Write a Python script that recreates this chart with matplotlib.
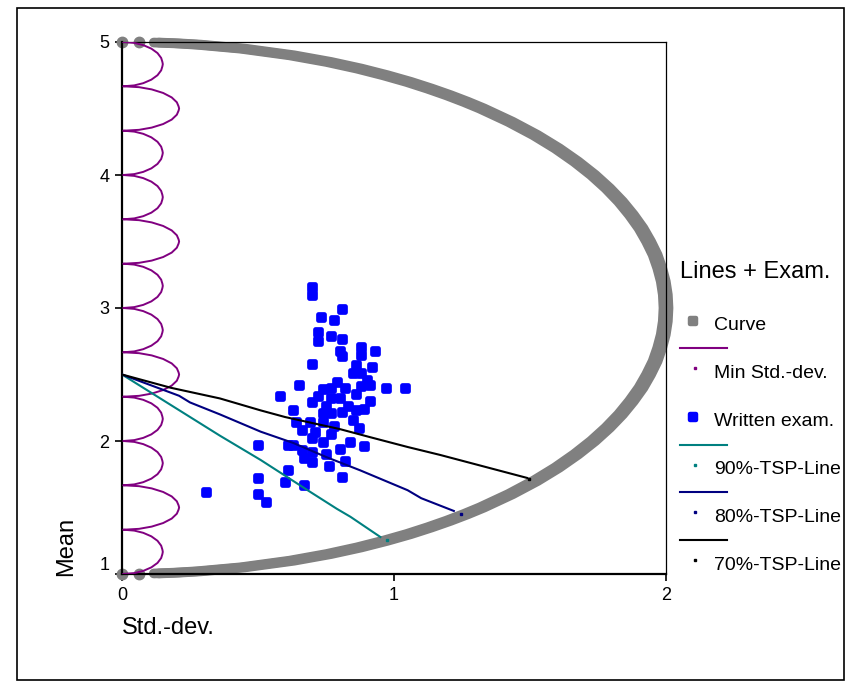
import numpy as np
import matplotlib
matplotlib.use("Agg")
import matplotlib.pyplot as plt
from matplotlib.lines import Line2D
from matplotlib.markers import MarkerStyle
from matplotlib.patches import Rectangle
from matplotlib.transforms import offset_copy

plt.rcParams['font.family'] = ['Liberation Sans', 'DejaVu Sans']

# maximum std-dev curve (gray band)
curve_mean = [1.000, 1.001, 1.004, 1.01, 1.02, 1.05, 1.1, 1.15, 1.2, 1.25, 1.3, 1.35, 1.4,
              1.45, 1.5, 1.6, 1.7, 1.8, 1.9, 2.0, 2.1, 2.2, 2.3, 2.4, 2.5, 2.6, 2.7, 2.8,
              2.9, 3.0, 3.1, 3.2, 3.3, 3.4, 3.5, 3.6, 3.7, 3.8, 3.9, 4.0, 4.1, 4.2, 4.3,
              4.4, 4.5, 4.55, 4.6, 4.65, 4.7, 4.75, 4.8, 4.85, 4.9, 4.95, 4.98, 4.99,
              4.996, 4.999, 5.000]
curve_std = [0.00, 0.063, 0.126, 0.20, 0.282, 0.444, 0.624, 0.76, 0.872, 0.968, 1.054,
             1.13, 1.20, 1.264, 1.323, 1.428, 1.52, 1.60, 1.67, 1.732, 1.786, 1.833,
             1.873, 1.908, 1.936, 1.960, 1.977, 1.990, 1.9975, 2.00, 1.9975, 1.990,
             1.977, 1.960, 1.936, 1.908, 1.873, 1.833, 1.786, 1.732, 1.67, 1.60, 1.52,
             1.428, 1.323, 1.264, 1.20, 1.13, 1.054, 0.968, 0.872, 0.76, 0.624, 0.444,
             0.282, 0.20, 0.126, 0.063, 0.00]

# minimum std-dev curve: lobes between thirds
lobe_bounds = [1.0, 1.333, 1.667, 2.0, 2.333, 2.667, 3.0, 3.333, 3.667, 4.0, 4.333, 4.667, 5.0]
lobe_peak = [0.15, 0.21, 0.15, 0.15, 0.21, 0.15, 0.15, 0.21, 0.15, 0.15, 0.21, 0.15]
lobe_pos = [0, 0.02, 0.07, 0.15, 0.25, 0.36, 0.45, 0.5, 0.55, 0.64, 0.75, 0.85, 0.93, 0.98, 1]
lobe_shape = [0.03, 0.30, 0.52, 0.72, 0.87, 0.96, 0.99, 1.0, 0.99, 0.96, 0.87, 0.72, 0.52,
              0.30, 0.03]

# written exam points (std-dev, mean)
exam_std = [0.70, 0.70, 0.81, 0.73, 0.78, 0.72, 0.72, 0.77, 0.81, 0.80, 0.81, 0.88, 0.88,
            0.93, 0.70, 0.86, 0.92, 0.85, 0.88, 0.90, 0.79, 0.65, 0.91, 0.74, 0.77, 0.82,
            0.88, 0.97, 1.04, 0.58, 0.72, 0.77, 0.80, 0.86, 0.91, 0.70, 0.75, 0.83, 0.89,
            0.63, 0.74, 0.77, 0.81, 0.86, 0.85, 0.64, 0.69, 0.74, 0.78, 0.87, 0.66, 0.71,
            0.77, 0.70, 0.74, 0.84, 0.89, 0.63, 0.66, 0.70, 0.80, 0.75, 0.67, 0.70, 0.82,
            0.76, 0.61, 0.81, 0.60, 0.67, 0.50, 0.61, 0.50, 0.31, 0.50, 0.53]
exam_mean = [3.16, 3.10, 2.99, 2.93, 2.91, 2.82, 2.75, 2.79, 2.77, 2.68, 2.64, 2.71, 2.65,
             2.68, 2.58, 2.57, 2.56, 2.51, 2.51, 2.46, 2.44, 2.42, 2.42, 2.39, 2.40, 2.40,
             2.41, 2.40, 2.40, 2.34, 2.34, 2.32, 2.32, 2.35, 2.30, 2.29, 2.26, 2.26, 2.24,
             2.23, 2.21, 2.21, 2.22, 2.23, 2.16, 2.14, 2.14, 2.14, 2.11, 2.10, 2.08, 2.07,
             2.05, 2.02, 1.99, 1.99, 1.96, 1.97, 1.93, 1.92, 1.94, 1.90, 1.87, 1.84, 1.85,
             1.81, 1.78, 1.73, 1.69, 1.67, 1.97, 1.97, 1.72, 1.62, 1.60, 1.54]

# TSP lines
tsp90_std = [0.0, 0.36, 0.51, 0.69, 0.79, 0.84, 0.95]
tsp90_mean = [2.5, 2.04, 1.857, 1.62, 1.49, 1.43, 1.278]
tsp80_std = [0.0, 0.21, 0.25, 0.36, 0.51, 0.63, 0.75, 0.875, 1.05, 1.10, 1.22]
tsp80_mean = [2.5, 2.34, 2.29, 2.20, 2.07, 1.985, 1.88, 1.78, 1.63, 1.57, 1.474]
tsp70_std = [0.0, 0.18, 0.36, 0.51, 0.60, 0.70, 0.80, 0.91, 1.05, 1.17, 1.49]
tsp70_mean = [2.5, 2.40, 2.32, 2.23, 2.18, 2.135, 2.09, 2.03, 1.955, 1.895, 1.722]
tsp_end_std = [0.974, 1.246, 1.496]
tsp_end_mean = [1.256, 1.451, 1.714]

gray = '#808080'
purple = '#800080'
blue = '#0000ff'
teal = '#008080'
navy = '#000080'

W, H = 846, 682
fig = plt.figure(figsize=(W / 100, H / 100), dpi=100)
ax = fig.add_axes([122 / W, 1 - 574 / H, 544 / W, 532 / H])

# curve: band of wide markers, drawn as two shifted thick strokes
for dx in (-2.5, 2.5):
    tr = offset_copy(ax.transData, fig=fig, x=dx, y=0, units='dots')
    ax.plot(curve_std[2:-2], curve_mean[2:-2], color=gray, lw=7, solid_capstyle='round',
            solid_joinstyle='round', clip_on=False, zorder=2, transform=tr)
ends = [0, 1, -2, -1]
ax.plot([curve_std[i] for i in ends], [curve_mean[i] for i in ends], 'o', color=gray,
        ms=7.5, clip_on=False, zorder=2)

# written exam
blob = MarkerStyle('s', joinstyle='round')
ax.plot(exam_std, exam_mean, ls='none', marker=blob, color=blue, mec=blue, mew=3.4,
        ms=5, zorder=3)

# min std-dev
min_mean, min_std = [], []
for i, pk in enumerate(lobe_peak):
    a, b = lobe_bounds[i], lobe_bounds[i + 1]
    min_mean.extend(a + (b - a) * np.array(lobe_pos))
    min_std.extend(pk * np.array(lobe_shape))
ax.plot(min_std, min_mean, color=purple, lw=1.4, zorder=4)

ax.plot(tsp90_std, tsp90_mean, color=teal, lw=1.5, zorder=5)
ax.plot(tsp80_std, tsp80_mean, color=navy, lw=1.5, zorder=5)
ax.plot(tsp70_std, tsp70_mean, color='black', lw=1.5, zorder=5)
for s, m, c in zip(tsp_end_std, tsp_end_mean, [teal, navy, 'black']):
    ax.plot(s, m, 's', color=c, ms=1.8, zorder=6)

ax.set_xlim(0, 2)
ax.set_ylim(1, 5)
ax.set_xticks([0, 1, 2])
ax.set_yticks([1, 2, 3, 4, 5])
ax.tick_params(labelsize=13, length=5, width=1.2, direction='out', pad=4)
ax.get_yticklabels()[0].set_va('bottom')
for side in ['left', 'bottom']:
    ax.spines[side].set_linewidth(1.6)
for side in ['top', 'right']:
    ax.spines[side].set_linewidth(0.9)

fig.text(122 / W, 1 - 628 / H, 'Std.-dev.', fontsize=17, ha='left', va='center')
fig.text(66 / W, 1 - 576 / H, 'Mean', fontsize=17, rotation=90, ha='center', va='bottom')


# legend drawn by hand
def fx(x):
    return x / W


def fy(y):
    return 1 - y / H


fig.text(fx(680), fy(272), 'Lines + Exam.', fontsize=17, va='center')
entries = [
    ('Curve', None, gray, 325),
    ('Min Std.-dev.', purple, purple, 373),
    ('Written exam.', None, blue, 421),
    ('90%-TSP-Line', teal, teal, 470),
    ('80%-TSP-Line', navy, navy, 517),
    ('70%-TSP-Line', 'black', 'black', 565),
]
for label, lc, mc, ty in entries:
    if lc is None:
        fig.add_artist(Line2D([fx(693)], [fy(ty - 4)], marker=blob, ms=4, mew=3.2,
                              color=mc, ls='none'))
    else:
        fig.add_artist(Line2D([fx(680), fx(727)], [fy(ty - 25)] * 2, color=lc, lw=1.5))
        fig.add_artist(Line2D([fx(695)], [fy(ty - 5)], marker='s', ms=1.8, color=mc,
                              ls='none'))
    fig.text(fx(714), fy(ty), label, fontsize=14, va='center')

fig.add_artist(Rectangle((fx(17), fy(680)), fx(844) - fx(17), fy(8) - fy(680),
                         fill=False, ec='black', lw=1.2))

fig.savefig('out.png', dpi=100)
